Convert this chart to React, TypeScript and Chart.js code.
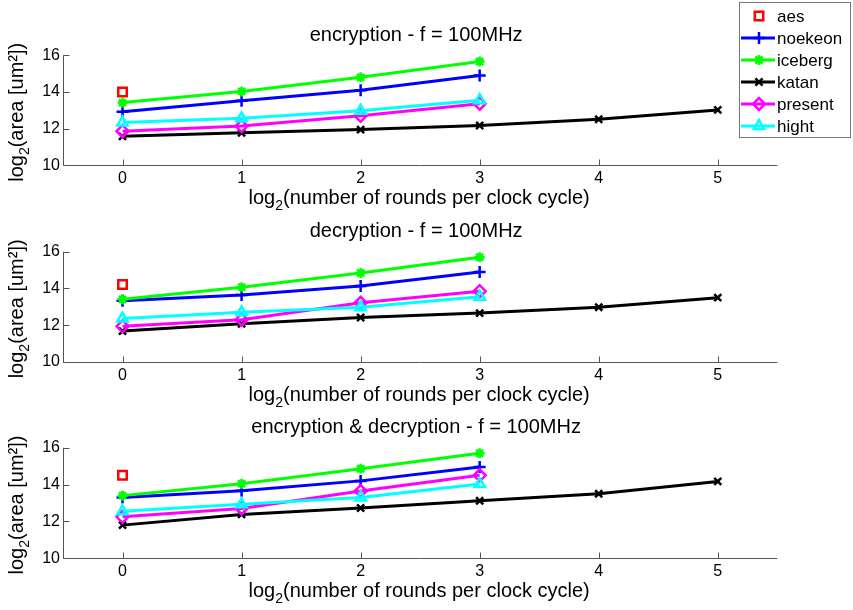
import React, { useEffect, useRef } from 'react';
import { Chart, registerables } from 'chart.js';
import { drawPoint } from 'chart.js/helpers';

Chart.register(...registerables);

// x positions: log2(number of rounds per clock cycle)
const ROUNDS_AES = [0];
const ROUNDS = [0, 1, 2, 3];
const ROUNDS_KATAN = [0, 1, 2, 3, 4, 5];
const X_TICKS = [0, 1, 2, 3, 4, 5];
const Y_TICKS = [10, 12, 14, 16];

const SERIES_NAMES = ['aes', 'noekeon', 'iceberg', 'katan', 'present', 'hight'];
const SERIES_X = [ROUNDS_AES, ROUNDS, ROUNDS, ROUNDS_KATAN, ROUNDS, ROUNDS];
const SERIES_COLORS = ['#ff0000', '#0000ff', '#00ff00', '#000000', '#ff00ff', '#00ffff'];
const SERIES_MARKERS = ['rect', 'cross', 'star', 'crossRot', 'rectRot', 'triangle'];

// log2(area [um²]) — encryption
const ENC_AES = [14.0];
const ENC_NOEKEON = [12.92, 13.52, 14.1, 14.9];
const ENC_ICEBERG = [13.42, 14.03, 14.8, 15.66];
const ENC_KATAN = [11.58, 11.77, 11.95, 12.17, 12.51, 13.02];
const ENC_PRESENT = [11.86, 12.14, 12.7, 13.36];
const ENC_HIGHT = [12.33, 12.56, 12.97, 13.55];

// decryption
const DEC_AES = [14.22];
const DEC_NOEKEON = [13.33, 13.65, 14.13, 14.9];
const DEC_ICEBERG = [13.41, 14.07, 14.84, 15.7];
const DEC_KATAN = [11.68, 12.08, 12.42, 12.66, 12.98, 13.5];
const DEC_PRESENT = [11.94, 12.3, 13.22, 13.85];
const DEC_HIGHT = [12.36, 12.7, 12.98, 13.55];

// encryption & decryption
const ED_AES = [14.5];
const ED_NOEKEON = [13.3, 13.66, 14.2, 14.95];
const ED_ICEBERG = [13.4, 14.05, 14.86, 15.7];
const ED_KATAN = [11.8, 12.38, 12.73, 13.12, 13.5, 14.17];
const ED_PRESENT = [12.25, 12.7, 13.65, 14.5];
const ED_HIGHT = [12.55, 12.93, 13.3, 14.03];

const PANEL_TITLES = [
  'encryption - f = 100MHz',
  'decryption - f = 100MHz',
  'encryption & decryption - f = 100MHz',
];
const PANEL_VALUES = [
  [ENC_AES, ENC_NOEKEON, ENC_ICEBERG, ENC_KATAN, ENC_PRESENT, ENC_HIGHT],
  [DEC_AES, DEC_NOEKEON, DEC_ICEBERG, DEC_KATAN, DEC_PRESENT, DEC_HIGHT],
  [ED_AES, ED_NOEKEON, ED_ICEBERG, ED_KATAN, ED_PRESENT, ED_HIGHT],
];

// layout of the three stacked panels (pixels)
const WIDTH = 853;
const CANVAS_H = 218;
const PANEL_TOPS = [0, 196, 392];
const AREA_TOPS = [55.3, 55.7, 55.7];
const AREA_BOTTOMS = [165.3, 166, 166.3];
const AREA_LEFT = 63;
const AREA_RIGHT = 777.3;
const X_AXIS_H = 40;

const FONT = '"Liberation Sans", Arial, Helvetica, sans-serif';
const AXIS_COLOR = '#555';
const MARKER_RADIUS = [6, 6, 5, 5, 6, 6];

function buildDatasets(values: number[][]) {
  return values.map((ys, i) => ({
    label: SERIES_NAMES[i],
    data: ys.map((y, k) => ({ x: SERIES_X[i][k], y })),
    borderColor: SERIES_COLORS[i],
    backgroundColor: SERIES_COLORS[i],
    borderWidth: 3,
    showLine: i !== 0,
    pointStyle: SERIES_MARKERS[i],
    pointRadius: MARKER_RADIUS[i],
    pointBorderWidth: 2.5,
    pointBorderColor: SERIES_COLORS[i],
    pointBackgroundColor: 'rgba(0,0,0,0)',
    order: SERIES_NAMES.length - i,
  }));
}

// "log" + subscript "2" + rest, centered horizontally on cx, baseline at y
function drawLogText(ctx: CanvasRenderingContext2D, rest: string, cx: number, y: number) {
  ctx.font = `20px ${FONT}`;
  const w1 = ctx.measureText('log').width;
  const w3 = ctx.measureText(rest).width;
  ctx.font = `14px ${FONT}`;
  const w2 = ctx.measureText('2').width;
  let x = cx - (w1 + w2 + w3) / 2;
  ctx.textAlign = 'left';
  ctx.textBaseline = 'alphabetic';
  ctx.font = `20px ${FONT}`;
  ctx.fillText('log', x, y);
  x += w1;
  ctx.font = `14px ${FONT}`;
  ctx.fillText('2', x, y + 6);
  x += w2;
  ctx.font = `20px ${FONT}`;
  ctx.fillText(rest, x, y);
}

function makeDecorPlugin(title: string, withLegend: boolean) {
  return {
    id: 'panelDecor',
    afterDraw(chart: any) {
      const ctx: CanvasRenderingContext2D = chart.ctx;
      const { left, right, top, bottom } = chart.chartArea;
      const xs = chart.scales.x;
      const ys = chart.scales.y;
      ctx.save();

      // axes (left and bottom only) with inward ticks
      ctx.strokeStyle = AXIS_COLOR;
      ctx.lineWidth = 1;
      ctx.beginPath();
      ctx.moveTo(Math.round(left) + 0.5, top);
      ctx.lineTo(Math.round(left) + 0.5, Math.round(bottom) + 0.5);
      ctx.lineTo(right, Math.round(bottom) + 0.5);
      X_TICKS.forEach((v) => {
        const px = Math.round(xs.getPixelForValue(v)) + 0.5;
        ctx.moveTo(px, Math.round(bottom) + 0.5);
        ctx.lineTo(px, Math.round(bottom) - 5.5);
      });
      Y_TICKS.forEach((v) => {
        const py = Math.round(ys.getPixelForValue(v)) + 0.5;
        ctx.moveTo(Math.round(left) + 0.5, py);
        ctx.lineTo(Math.round(left) + 6.5, py);
      });
      ctx.stroke();

      ctx.fillStyle = '#000';
      // panel title
      ctx.font = `20px ${FONT}`;
      ctx.textAlign = 'center';
      ctx.textBaseline = 'middle';
      ctx.fillText(title, (left + right) / 2 - 4, top - 20);

      // x axis label
      drawLogText(ctx, '(number of rounds per clock cycle)', (left + right) / 2 - 1, bottom + 38.7);

      // y axis label (rotated)
      ctx.save();
      ctx.translate(22.5, (top + bottom) / 2 + 2);
      ctx.rotate(-Math.PI / 2);
      drawLogText(ctx, '(area [um²])', 0, 0);
      ctx.restore();

      if (withLegend) {
        const bx = 739.5;
        const by = 2.5;
        const bw = 111;
        const bh = 135;
        ctx.fillStyle = '#fff';
        ctx.fillRect(bx, by, bw, bh);
        ctx.strokeStyle = '#777';
        ctx.lineWidth = 1;
        ctx.strokeRect(bx, by, bw, bh);
        SERIES_NAMES.forEach((name, i) => {
          const cy = 16 + i * 22;
          ctx.strokeStyle = SERIES_COLORS[i];
          ctx.fillStyle = 'rgba(0,0,0,0)';
          if (i !== 0) {
            ctx.lineWidth = 3;
            ctx.beginPath();
            ctx.moveTo(741, cy);
            ctx.lineTo(775, cy);
            ctx.stroke();
          }
          ctx.lineWidth = 2.5;
          drawPoint(ctx, { pointStyle: SERIES_MARKERS[i], rotation: 0, radius: MARKER_RADIUS[i], borderWidth: 2.5 } as any, 759, cy);
          ctx.fillStyle = '#000';
          ctx.font = `17px ${FONT}`;
          ctx.textAlign = 'left';
          ctx.textBaseline = 'middle';
          ctx.fillText(name, 777, cy + 1);
        });
      }
      ctx.restore();
    },
  };
}

function Panel({ index }: { index: number }) {
  const ref = useRef<HTMLCanvasElement | null>(null);

  useEffect(() => {
    if (!ref.current) return;
    const areaTop = AREA_TOPS[index];
    const areaBottom = AREA_BOTTOMS[index];
    const tickFont = { family: FONT, size: 16 };
    const chart = new Chart(ref.current, {
      type: 'line',
      data: { datasets: buildDatasets(PANEL_VALUES[index]) as any },
      options: {
        animation: false,
        responsive: false,
        devicePixelRatio: 1,
        layout: {
          padding: {
            top: areaTop,
            bottom: CANVAS_H - areaBottom - X_AXIS_H,
            left: 0,
            right: WIDTH - AREA_RIGHT,
          },
        },
        plugins: {
          legend: { display: false },
          tooltip: { enabled: false },
          title: { display: false },
        },
        scales: {
          x: {
            type: 'linear',
            min: -0.5,
            max: 5.5,
            afterBuildTicks: (s: any) => {
              s.ticks = X_TICKS.map((v) => ({ value: v }));
            },
            afterFit: (s: any) => {
              s.height = X_AXIS_H;
            },
            grid: { display: false, drawTicks: false },
            border: { display: false },
            ticks: { font: tickFont, color: '#000', padding: 4, autoSkip: false, maxRotation: 0 },
          },
          y: {
            type: 'linear',
            min: 10,
            max: 16,
            afterBuildTicks: (s: any) => {
              s.ticks = Y_TICKS.map((v) => ({ value: v }));
            },
            afterFit: (s: any) => {
              s.width = AREA_LEFT;
            },
            grid: { display: false, drawTicks: false },
            border: { display: false },
            ticks: { font: tickFont, color: '#000', padding: 3, autoSkip: false },
          },
        },
      } as any,
      plugins: [makeDecorPlugin(PANEL_TITLES[index], index === 0)],
    });
    return () => chart.destroy();
  }, [index]);

  return (
    <canvas
      ref={ref}
      width={WIDTH}
      height={CANVAS_H}
      style={{ position: 'absolute', left: 0, top: PANEL_TOPS[index], width: WIDTH, height: CANVAS_H }}
    />
  );
}

export default function App() {
  return (
    <div style={{ position: 'absolute', left: 0, top: 0, width: WIDTH, height: 610, background: '#fff', overflow: 'hidden' }}>
      {PANEL_TITLES.map((_, i) => (
        <Panel key={i} index={i} />
      ))}
    </div>
  );
}
